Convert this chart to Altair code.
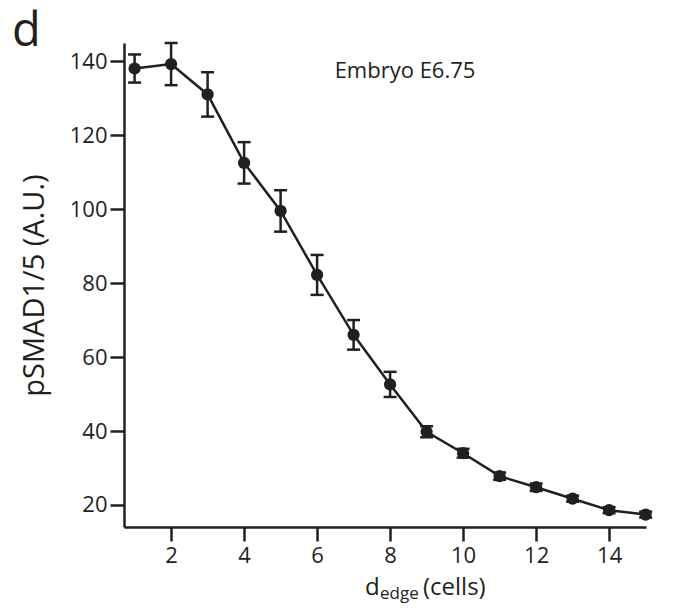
import altair as alt
import pandas as pd

d_edge = [1, 2, 3, 4, 5, 6, 7, 8, 9, 10, 11, 12, 13, 14, 15]
psmad = [138.0, 139.2, 131.0, 112.5, 99.5, 82.2, 66.0, 52.6, 39.8, 34.0, 27.8, 24.8, 21.7, 18.6, 17.4]
err = [3.8, 5.7, 6.0, 5.6, 5.6, 5.4, 4.0, 3.4, 1.5, 1.2, 1.0, 1.0, 0.8, 0.8, 0.8]

df = pd.DataFrame({"x": d_edge, "y": psmad, "e": err})
df["lo"] = df["y"] - df["e"]
df["hi"] = df["y"] + df["e"]

C = "#231f20"
FONT = "Open Sans"

xs = alt.Scale(domain=[0.71, 15.01], nice=False, zero=False)
ys = alt.Scale(domain=[14.05, 144.9], nice=False, zero=False)

xax = alt.Axis(values=[2, 4, 6, 8, 10, 12, 14], grid=False, domainColor=C, domainWidth=2.5,
               tickColor=C, tickWidth=2.5, tickSize=14, labelFont=FONT, labelFontSize=22,
               labelColor=C, labelPadding=4, title=None)
yax = alt.Axis(values=[20, 40, 60, 80, 100, 120, 140], grid=False, domainColor=C, domainWidth=2.5,
               tickColor=C, tickWidth=2.5, tickSize=14, labelFont=FONT, labelFontSize=22,
               labelColor=C, labelPadding=3, title="pSMAD1/5 (A.U.)", titleFont=FONT,
               titleFontSize=29, titleFontWeight="normal", titleColor=C, titlePadding=20)

base = alt.Chart(df)
line = base.mark_line(color=C, strokeWidth=2.5).encode(
    x=alt.X("x:Q", scale=xs, axis=xax), y=alt.Y("y:Q", scale=ys, axis=yax))
bars = base.mark_rule(color=C, strokeWidth=2.5).encode(x="x:Q", y="lo:Q", y2="hi:Q")
cap_lo = base.mark_tick(color=C, orient="horizontal", size=13, thickness=2.5, opacity=1).encode(x="x:Q", y="lo:Q")
cap_hi = base.mark_tick(color=C, orient="horizontal", size=13, thickness=2.5, opacity=1).encode(x="x:Q", y="hi:Q")
pts = base.mark_circle(color=C, opacity=1, size=150).encode(x="x:Q", y="y:Q")

ann = pd.DataFrame({"t": ["Embryo E6.75"]})
embryo = alt.Chart(ann).mark_text(font=FONT, fontSize=22, color=C, align="center", baseline="alphabetic").encode(
    text="t:N", x=alt.value(281), y=alt.value(35))

lab_d = alt.Chart(pd.DataFrame({"t": ["d"]})).mark_text(font=FONT, fontSize=47, color=C, align="left", baseline="alphabetic").encode(
    text="t:N", x=alt.value(-112), y=alt.value(3))

xt1 = alt.Chart(pd.DataFrame({"t": ["d"]})).mark_text(font=FONT, fontSize=24, color=C, align="left", baseline="alphabetic").encode(
    text="t:N", x=alt.value(241), y=alt.value(552))
xt2 = alt.Chart(pd.DataFrame({"t": ["edge"]})).mark_text(font=FONT, fontSize=17, color=C, align="left", baseline="alphabetic").encode(
    text="t:N", x=alt.value(256), y=alt.value(556))
xt3 = alt.Chart(pd.DataFrame({"t": ["(cells)"]})).mark_text(font=FONT, fontSize=24, color=C, align="left", baseline="alphabetic").encode(
    text="t:N", x=alt.value(299), y=alt.value(552))

chart = alt.layer(line, bars, cap_lo, cap_hi, pts, embryo, lab_d, xt1, xt2, xt3).properties(
    width=522, height=484,
    autosize=alt.AutoSizeParams(type="none"),
    padding={"left": 116, "top": 35, "right": 20, "bottom": 80},
).configure(background="white").configure_view(strokeWidth=0, stroke=None)

chart.save("out.html", embed_options={"renderer": "svg", "actions": False})
